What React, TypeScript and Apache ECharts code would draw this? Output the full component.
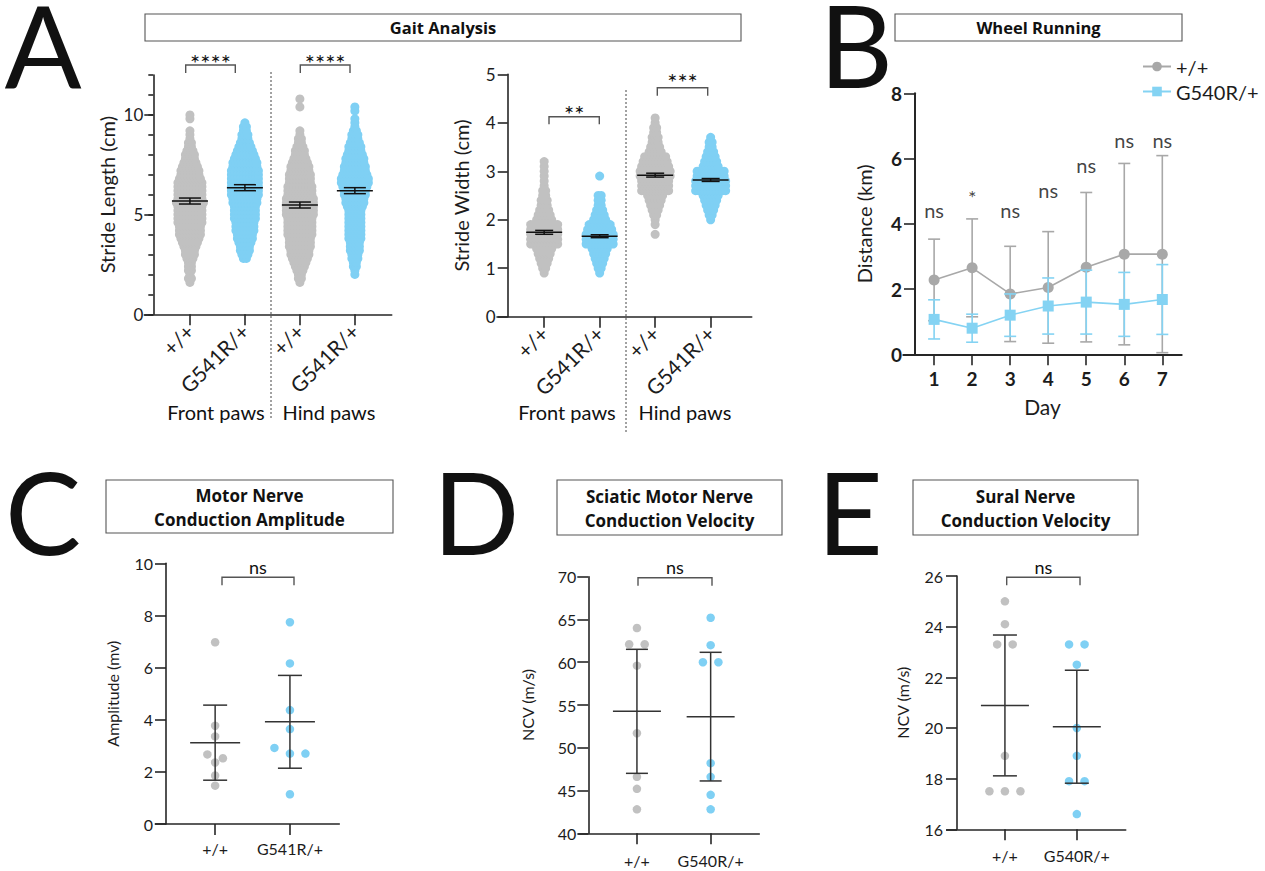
import React, { useEffect, useRef } from "react";
import * as echarts from "echarts";

// ---------------- Panel A · Gait analysis ----------------
const gaitGroups = ["+/+", "G541R/+", "+/+", "G541R/+"];
const pawLabels = ["Front paws", "Hind paws"];
const strideLengthSig = ["****", "****"];
const strideWidthSig = ["**", "***"];

// stride length: value rows (cm) and number of dots in each row
const strideLengthBins = [1.6, 1.8, 2.0, 2.2, 2.4, 2.6, 2.8, 3.0, 3.2, 3.4, 3.6, 3.8, 4.0, 4.2, 4.4, 4.6, 4.8, 5.0, 5.2, 5.4, 5.6, 5.8, 6.0, 6.2, 6.4, 6.6, 6.8, 7.0, 7.2, 7.4, 7.6, 7.8, 8.0, 8.2, 8.4, 8.6, 8.8, 9.0, 9.2, 9.4, 9.6, 9.8, 10.0, 10.2, 10.4, 10.6, 10.8];
const lengthFrontWT = [1, 2, 1, 2, 2, 2, 3, 4, 4, 5, 6, 7, 8, 8, 8, 9, 9, 9, 9, 9, 10, 9, 9, 9, 9, 9, 8, 7, 7, 6, 5, 4, 4, 3, 2, 2, 1, 1, 1, 0, 0, 1, 1, 0, 0, 0, 0];
const lengthFrontMut = [0, 0, 0, 0, 0, 0, 2, 3, 4, 4, 5, 6, 6, 7, 7, 7, 8, 8, 8, 8, 9, 9, 10, 10, 10, 10, 10, 10, 10, 9, 9, 8, 7, 6, 5, 4, 3, 3, 2, 2, 1, 0, 0, 0, 0, 0, 0];
const lengthHindWT = [1, 2, 2, 3, 4, 5, 6, 7, 7, 8, 8, 8, 9, 9, 9, 9, 9, 10, 10, 10, 10, 10, 9, 9, 9, 8, 8, 8, 7, 7, 6, 5, 4, 4, 3, 2, 2, 1, 1, 0, 0, 0, 0, 0, 1, 0, 1];
const lengthHindMut = [0, 0, 1, 1, 2, 2, 3, 3, 4, 4, 4, 5, 5, 5, 5, 5, 5, 5, 5, 6, 7, 7, 8, 8, 9, 10, 10, 9, 8, 8, 7, 7, 6, 5, 5, 4, 3, 3, 2, 1, 1, 1, 0, 1, 1, 0, 0];
const strideLengthMean = [5.68, 6.35, 5.48, 6.2];
const strideLengthSem = [0.15, 0.15, 0.15, 0.15];

// stride width
const strideWidthBins = [0.9, 1.0, 1.1, 1.2, 1.3, 1.4, 1.5, 1.6, 1.7, 1.8, 1.9, 2.0, 2.1, 2.2, 2.3, 2.4, 2.5, 2.6, 2.7, 2.8, 2.9, 3.0, 3.1, 3.2, 3.3, 3.4, 3.5, 3.6, 3.7, 3.8, 3.9, 4.0, 4.1];
const widthFrontWT = [1, 2, 3, 4, 5, 6, 10, 10, 10, 10, 10, 6, 5, 4, 3, 3, 2, 2, 1, 1, 1, 1, 1, 1, 0, 0, 0, 0, 0, 0, 0, 0, 0];
const widthFrontMut = [1, 2, 3, 4, 5, 6, 10, 10, 10, 9, 8, 5, 4, 3, 2, 2, 2, 0, 0, 0, 1, 0, 0, 0, 0, 0, 0, 0, 0, 0, 0, 0, 0];
const widthHindWT = [0, 0, 0, 0, 0, 0, 0, 0, 1, 0, 1, 1, 2, 3, 4, 5, 6, 10, 10, 10, 11, 11, 10, 9, 8, 5, 4, 3, 3, 2, 2, 1, 1];
const widthHindMut = [0, 0, 0, 0, 0, 0, 0, 0, 0, 0, 0, 1, 2, 3, 4, 5, 6, 11, 11, 11, 10, 10, 6, 5, 4, 3, 2, 2, 1, 0, 0, 0, 0];
const strideWidthMean = [1.74, 1.66, 2.92, 2.82];
const strideWidthSem = [0.04, 0.03, 0.04, 0.03];

// ---------------- Panel B · Wheel running ----------------
const days = [1, 2, 3, 4, 5, 6, 7];
const wheelWTMean = [2.28, 2.65, 1.85, 2.05, 2.67, 3.07, 3.07];
const wheelWTSd = [1.25, 1.5, 1.46, 1.71, 2.29, 2.78, 3.02];
const wheelMutMean = [1.07, 0.8, 1.2, 1.48, 1.6, 1.53, 1.68];
const wheelMutSd = [0.6, 0.43, 0.65, 0.86, 0.98, 0.98, 1.07];
const wheelSig = ["ns", "*", "ns", "ns", "ns", "ns", "ns"];
const wheelSigY = [4.42, 4.83, 4.42, 5.04, 5.79, 6.57, 6.57];

// ---------------- Panel C · Motor nerve amplitude ----------------
const ampGroups = ["+/+", "G541R/+"];
const ampWT = [6.97, 3.77, 3.36, 2.67, 2.52, 2.36, 1.86, 1.47];
const ampMut = [7.74, 6.16, 4.37, 3.64, 2.92, 2.7, 2.7, 1.14];
const ampMean = [3.12, 3.92];
const ampSd = [1.44, 1.78];

// ---------------- Panel D · Sciatic motor NCV ----------------
const ncvGroups = ["+/+", "G540R/+"];
const sciaticWT = [64.0, 62.1, 62.1, 59.6, 51.7, 46.6, 45.2, 42.8];
const sciaticMut = [65.2, 62.0, 60.0, 60.0, 48.2, 46.6, 44.5, 42.8];
const sciaticMean = [54.26, 53.64];
const sciaticSd = [7.25, 7.52];

// ---------------- Panel E · Sural NCV ----------------
const suralWT = [25.0, 24.1, 23.3, 23.3, 18.9, 17.5, 17.5, 17.5];
const suralMut = [23.3, 23.3, 22.5, 20.0, 18.9, 17.9, 17.9, 16.6];
const suralMean = [20.89, 20.05];
const suralSd = [2.78, 2.23];

// ---------------- styling ----------------
const FONT = "Lato, 'Open Sans', sans-serif";
const TITLE_FONT = "'Open Sans', Lato, sans-serif";
const GRAY = "#c1c1c1";
const BLUE = "#7fd0f4";
const B_GRAY = "#a8a8a8";
const B_BLUE = "#84d3f3";
const INK = "#1c1c1c";
const AXIS = "#262626";
const SWARM_STEP = 3;

const L = {
  aL: { left: 144.3, top: 75, width: 247.4, height: 239.3, xMin: -0.83, xMax: 3.67, yMin: 0, yMax: 12, yOff: -9 },
  aR: { left: 497, top: 74.3, width: 254.7, height: 242.4, xMin: -0.85, xMax: 3.74, yMin: 0, yMax: 5, yOff: -10.7 },
  b: { left: 903.3, top: 93.3, width: 278.4, height: 261, xMin: 0.19, xMax: 7.51, yMin: 0, yMax: 8, yOff: -11.7 },
  c: { left: 155.3, top: 563.3, width: 184, height: 260.7, xMin: -0.8, xMax: 1.66, yMin: 0, yMax: 10, yOff: -10.7 },
  d: { left: 578.7, top: 576.7, width: 180.6, height: 256.6, xMin: -0.79, xMax: 1.66, yMin: 40, yMax: 70, yOff: -9.6 },
  e: { left: 946.7, top: 576, width: 179, height: 253.3, xMin: -0.81, xMax: 1.68, yMin: 16, yMax: 26, yOff: -10.3 },
};

function rowSwarm(bins: number[], counts: number[], cat: number) {
  const out: any[] = [];
  bins.forEach((v, i) => {
    const n = counts[i];
    for (let k = 0; k < n; k++) {
      out.push({ value: [cat, v], symbolOffset: [(k - (n - 1) / 2) * SWARM_STEP, 0] });
    }
  });
  return out;
}

function dotSwarm(values: number[], cat: number, pxPerUnit: number) {
  const sorted = values.slice().sort((a, b) => b - a);
  const groups: number[][] = [];
  sorted.forEach((v) => {
    const g = groups[groups.length - 1];
    if (g && (g[0] - v) * pxPerUnit < 7) g.push(v);
    else groups.push([v]);
  });
  const out: any[] = [];
  groups.forEach((g) =>
    g.forEach((v, k) => out.push({ value: [cat, v], symbolOffset: [(k - (g.length - 1) / 2) * 15.5, 0] }))
  );
  return out;
}

function meanErr(xi: number, yi: number, xs: number[], means: number[], errs: number[], halfMean: number, halfCap: number, color: string, lw: number, z = 6) {
  return {
    type: "custom",
    xAxisIndex: xi,
    yAxisIndex: yi,
    z,
    silent: true,
    data: means.map((m, i) => [xs[i], m, m - errs[i], m + errs[i]]),
    renderItem: (_p: any, api: any) => {
      const c = api.coord([api.value(0), api.value(1)]);
      const lo = api.coord([api.value(0), api.value(2)]);
      const hi = api.coord([api.value(0), api.value(3)]);
      const st = { stroke: color, lineWidth: lw };
      const kids: any[] = [
        { type: "line", shape: { x1: c[0], y1: lo[1], x2: c[0], y2: hi[1] }, style: st },
        { type: "line", shape: { x1: c[0] - halfCap, y1: lo[1], x2: c[0] + halfCap, y2: lo[1] }, style: st },
        { type: "line", shape: { x1: c[0] - halfCap, y1: hi[1], x2: c[0] + halfCap, y2: hi[1] }, style: st },
      ];
      if (halfMean > 0) kids.push({ type: "line", shape: { x1: c[0] - halfMean, y1: c[1], x2: c[0] + halfMean, y2: c[1] }, style: st });
      return { type: "group", children: kids };
    },
  };
}

function grid(g: any) {
  return { left: g.left, top: g.top, width: g.width, height: g.height, containLabel: false, outerBoundsMode: "none" };
}

function xAxisFor(gi: number, g: any, ticks: number[], fmt: (v: number) => string, label: any, tickLen = 11, extra: any = {}) {
  return {
    type: "value",
    gridIndex: gi,
    min: g.xMin,
    max: g.xMax,
    axisLine: { show: true, onZero: false, lineStyle: { color: AXIS, width: 1.6 } },
    axisTick: { show: true, customValues: ticks, length: tickLen, lineStyle: { color: AXIS, width: 1.6 } },
    axisLabel: { customValues: ticks, formatter: (v: number) => fmt(v), color: INK, fontFamily: FONT, ...label },
    splitLine: { show: false },
    ...extra,
  };
}

function yAxisFor(gi: number, g: any, ticks: number[], labels: number[] | null, label: any, tickLen: number, extra: any = {}) {
  return {
    type: "value",
    gridIndex: gi,
    min: g.yMin,
    max: g.yMax,
    position: "left",
    offset: g.yOff,
    axisLine: { show: true, onZero: false, lineStyle: { color: AXIS, width: 1.6 } },
    axisTick: { show: true, customValues: ticks, length: tickLen, lineStyle: { color: AXIS, width: 1.6 } },
    axisLabel: labels ? { show: true, customValues: labels, color: INK, fontFamily: FONT, ...label } : { show: false },
    splitLine: { show: false },
    ...extra,
  };
}

function yName(name: string, gap: number, size: number) {
  return { name, nameLocation: "middle", nameGap: gap, nameTextStyle: { fontFamily: FONT, fontSize: size, color: INK } };
}

function txt(text: string, x: number, y: number, size: number, weight: any = "normal", family = FONT, lineHeight?: number) {
  const style: any = { text, fill: "#111", fontFamily: family, fontSize: size, fontWeight: weight, textAlign: "center", textVerticalAlign: "middle" };
  if (lineHeight) style.lineHeight = lineHeight;
  return { type: "text", x, y, silent: true, style };
}

function box(x: number, y: number, w: number, h: number) {
  return { type: "rect", silent: true, shape: { x, y, width: w, height: h }, style: { fill: "#fff", stroke: "#555", lineWidth: 1.1 } };
}

function bracket(x1: number, x2: number, y: number, drop: number, label: string, ly: number, size = 20) {
  return [
    { type: "polyline", silent: true, shape: { points: [[x1, y + drop], [x1, y], [x2, y], [x2, y + drop]] }, style: { stroke: "#555", lineWidth: 1.4, fill: null } },
    txt(label, (x1 + x2) / 2, ly, size),
  ];
}

function dotted(x: number, y1: number, y2: number) {
  return { type: "line", silent: true, shape: { x1: x, y1, x2: x, y2 }, style: { stroke: "#444", lineWidth: 1, lineDash: [2, 2] } };
}

function buildOption() {
  const pxC = L.c.height / (L.c.yMax - L.c.yMin);
  const pxD = L.d.height / (L.d.yMax - L.d.yMin);
  const pxE = L.e.height / (L.e.yMax - L.e.yMin);
  const gaitFmt = (v: number) => gaitGroups[Math.round(v)] ?? "";
  const gaitLabel = { rotate: 45, fontSize: 21, margin: 13 };
  const smallLabel = { fontSize: 16 };

  const swarmSeries = (xi: number, yi: number, data: any[], color: string) => ({
    type: "scatter",
    xAxisIndex: xi,
    yAxisIndex: yi,
    symbol: "circle",
    symbolSize: 9,
    large: false,
    progressive: 0,
    silent: true,
    itemStyle: { color, opacity: 1 },
    data,
    z: 2,
  });
  const dotSeries = (xi: number, yi: number, data: any[], color: string) => ({
    type: "scatter",
    xAxisIndex: xi,
    yAxisIndex: yi,
    symbol: "circle",
    symbolSize: 8.5,
    silent: true,
    itemStyle: { color, opacity: 1 },
    data,
    z: 2,
  });

  const graphic: any[] = [
    // panel letters
    txt("A", 43, 43, 114, "normal", FONT, 86),
    txt("B", 856, 43, 114, "normal", FONT, 86),
    txt("C", 43, 510, 114, "normal", FONT, 86),
    txt("D", 476, 510, 114, "normal", FONT, 86),
    txt("E", 850, 510, 114, "normal", FONT, 86),
    // title boxes
    box(145, 14, 596, 27),
    txt("Gait Analysis", 443, 27.5, 16.5, "bold", TITLE_FONT),
    box(895, 14, 287, 27),
    txt("Wheel Running", 1038.5, 27.5, 16.5, "bold", TITLE_FONT),
    box(106, 480, 287, 53),
    txt("Motor Nerve", 249.5, 495, 17, "bold", TITLE_FONT),
    txt("Conduction Amplitude", 249.5, 519, 17, "bold", TITLE_FONT),
    box(557, 480, 225, 55),
    txt("Sciatic Motor Nerve", 669.5, 496, 17, "bold", TITLE_FONT),
    txt("Conduction Velocity", 669.5, 520, 17, "bold", TITLE_FONT),
    box(913, 480, 225, 55),
    txt("Sural Nerve", 1025.5, 496, 17, "bold", TITLE_FONT),
    txt("Conduction Velocity", 1025.5, 520, 17, "bold", TITLE_FONT),
    // panel A separators and paw labels
    dotted(271, 72, 420),
    dotted(626, 90, 432),
    txt(pawLabels[0], 216, 412, 20),
    txt(pawLabels[1], 329, 412, 20),
    txt(pawLabels[0], 567, 412, 20),
    txt(pawLabels[1], 685, 412, 20),
    // significance brackets
    ...bracket(185.7, 235.3, 65, 8, strideLengthSig[0], 62, 24),
    ...bracket(300.3, 350, 65, 8, strideLengthSig[1], 62, 24),
    ...bracket(549, 599.3, 116.7, 7.5, strideWidthSig[0], 113, 24),
    ...bracket(657.3, 707.7, 87.7, 8, strideWidthSig[1], 81, 24),
    ...bracket(222, 294, 577.3, 8, "ns", 567, 18),
    ...bracket(638, 712, 577.7, 8, "ns", 567, 18),
    ...bracket(1006.7, 1080, 577.3, 8, "ns", 567, 18),
  ];

  return {
    animation: false,
    backgroundColor: "#fff",
    textStyle: { fontFamily: FONT },
    grid: [grid(L.aL), grid(L.aR), grid(L.b), grid(L.c), grid(L.d), grid(L.e)],
    xAxis: [
      xAxisFor(0, L.aL, [0, 1, 2, 3], gaitFmt, gaitLabel),
      xAxisFor(1, L.aR, [0, 1, 2, 3], gaitFmt, gaitLabel),
      xAxisFor(2, L.b, days, (v) => String(Math.round(v)), { fontSize: 19, fontWeight: "bold", margin: 15 }, 11, {
        name: "Day",
        nameLocation: "middle",
        nameGap: 42,
        nameTextStyle: { fontFamily: FONT, fontSize: 21, color: INK },
        axisLine: { show: true, onZero: false, lineStyle: { color: AXIS, width: 2 } },
      }),
      xAxisFor(3, L.c, [0, 1], (v) => ampGroups[Math.round(v)] ?? "", { ...smallLabel, margin: 16 }),
      xAxisFor(4, L.d, [0, 1], (v) => ncvGroups[Math.round(v)] ?? "", { ...smallLabel, margin: 19 }),
      xAxisFor(5, L.e, [0, 1], (v) => ncvGroups[Math.round(v)] ?? "", { ...smallLabel, margin: 18 }),
    ],
    yAxis: [
      // 0: A-left minor ticks
      yAxisFor(0, L.aL, [0, 1, 2, 3, 4, 5, 6, 7, 8, 9, 10, 11, 12], null, {}, 5),
      // 1: A-left major ticks + labels
      yAxisFor(0, L.aL, [0, 5, 10], [0, 5, 10], { fontSize: 17, margin: 10 }, 9, {
        ...yName("Stride Length (cm)", 36, 20),
        axisLine: { show: false, onZero: false },
      }),
      // 2: A-right
      yAxisFor(1, L.aR, [0, 1, 2, 3, 4, 5], [0, 1, 2, 3, 4, 5], { fontSize: 17, margin: 12 }, 10, yName("Stride Width (cm)", 37, 20)),
      // 3: B
      yAxisFor(2, L.b, [0, 2, 4, 6, 8], [0, 2, 4, 6, 8], { fontSize: 19, fontWeight: "bold", margin: 13 }, 11, {
        ...yName("Distance (km)", 41, 20),
        axisLine: { show: true, onZero: false, lineStyle: { color: AXIS, width: 2 } },
      }),
      // 4: C
      yAxisFor(3, L.c, [0, 2, 4, 6, 8, 10], [0, 2, 4, 6, 8, 10], { fontSize: 16, margin: 13 }, 11, yName("Amplitude (mv)", 46, 16)),
      // 5: D
      yAxisFor(4, L.d, [40, 45, 50, 55, 60, 65, 70], [40, 45, 50, 55, 60, 65, 70], { fontSize: 16, margin: 12 }, 11, yName("NCV (m/s)", 53, 16)),
      // 6: E
      yAxisFor(5, L.e, [16, 18, 20, 22, 24, 26], [16, 18, 20, 22, 24, 26], { fontSize: 16, margin: 14 }, 11, yName("NCV (m/s)", 47, 16)),
    ],
    legend: {
      data: ["+/+", "G540R/+"],
      orient: "vertical",
      left: 1137,
      top: 51,
      itemWidth: 28,
      itemHeight: 12,
      itemGap: 4,
      textStyle: { fontFamily: FONT, fontSize: 20, color: INK, lineHeight: 21 },
      selectedMode: false,
    },
    graphic,
    series: [
      // Panel A left
      swarmSeries(0, 0, rowSwarm(strideLengthBins, lengthFrontWT, 0), GRAY),
      swarmSeries(0, 0, rowSwarm(strideLengthBins, lengthFrontMut, 1), BLUE),
      swarmSeries(0, 0, rowSwarm(strideLengthBins, lengthHindWT, 2), GRAY),
      swarmSeries(0, 0, rowSwarm(strideLengthBins, lengthHindMut, 3), BLUE),
      meanErr(0, 0, [0, 1, 2, 3], strideLengthMean, strideLengthSem, 18, 11, "#111", 1.5),
      // Panel A right
      swarmSeries(1, 2, rowSwarm(strideWidthBins, widthFrontWT, 0), GRAY),
      swarmSeries(1, 2, rowSwarm(strideWidthBins, widthFrontMut, 1), BLUE),
      swarmSeries(1, 2, rowSwarm(strideWidthBins, widthHindWT, 2), GRAY),
      swarmSeries(1, 2, rowSwarm(strideWidthBins, widthHindMut, 3), BLUE),
      meanErr(1, 2, [0, 1, 2, 3], strideWidthMean, strideWidthSem, 18, 9, "#111", 1.5),
      // Panel B
      meanErr(2, 3, days, wheelWTMean, wheelWTSd, 0, 6, B_GRAY, 1.6, 2),
      {
        name: "+/+",
        type: "line",
        xAxisIndex: 2,
        yAxisIndex: 3,
        data: days.map((d, i) => [d, wheelWTMean[i]]),
        symbol: "circle",
        symbolSize: 11,
        lineStyle: { color: B_GRAY, width: 1.6 },
        itemStyle: { color: B_GRAY },
        z: 3,
      },
      meanErr(2, 3, days, wheelMutMean, wheelMutSd, 0, 6, B_BLUE, 1.6, 4),
      {
        name: "G540R/+",
        type: "line",
        xAxisIndex: 2,
        yAxisIndex: 3,
        data: days.map((d, i) => [d, wheelMutMean[i]]),
        symbol: "rect",
        symbolSize: 11,
        lineStyle: { color: B_BLUE, width: 1.6 },
        itemStyle: { color: B_BLUE },
        z: 5,
      },
      {
        type: "scatter",
        xAxisIndex: 2,
        yAxisIndex: 3,
        silent: true,
        symbolSize: 1,
        itemStyle: { color: "rgba(0,0,0,0)" },
        data: days.map((d, i) => [d, wheelSigY[i]]),
        label: {
          show: true,
          position: "inside",
          formatter: (p: any) => wheelSig[p.dataIndex],
          fontFamily: FONT,
          fontSize: 20,
          color: "#111",
        },
        z: 6,
      },
      // Panel C
      dotSeries(3, 4, dotSwarm(ampWT, 0, pxC), GRAY),
      dotSeries(3, 4, dotSwarm(ampMut, 1, pxC), BLUE),
      meanErr(3, 4, [0, 1], ampMean, ampSd, 25, 12, "#333", 1.5),
      // Panel D
      dotSeries(4, 5, dotSwarm(sciaticWT, 0, pxD), GRAY),
      dotSeries(4, 5, dotSwarm(sciaticMut, 1, pxD), BLUE),
      meanErr(4, 5, [0, 1], sciaticMean, sciaticSd, 24, 11, "#333", 1.5),
      // Panel E
      dotSeries(5, 6, dotSwarm(suralWT, 0, pxE), GRAY),
      dotSeries(5, 6, dotSwarm(suralMut, 1, pxE), BLUE),
      meanErr(5, 6, [0, 1], suralMean, suralSd, 24, 12, "#333", 1.5),
    ],
  };
}

export default function App() {
  const ref = useRef<HTMLDivElement>(null);
  useEffect(() => {
    if (!ref.current) return;
    const chart = echarts.init(ref.current, null, { renderer: "svg" });
    chart.setOption(buildOption() as any);
    return () => chart.dispose();
  }, []);
  return (
    <div
      ref={ref}
      style={{ position: "absolute", left: 0, top: 0, width: 1265, height: 871, background: "#fff" }}
    />
  );
}
